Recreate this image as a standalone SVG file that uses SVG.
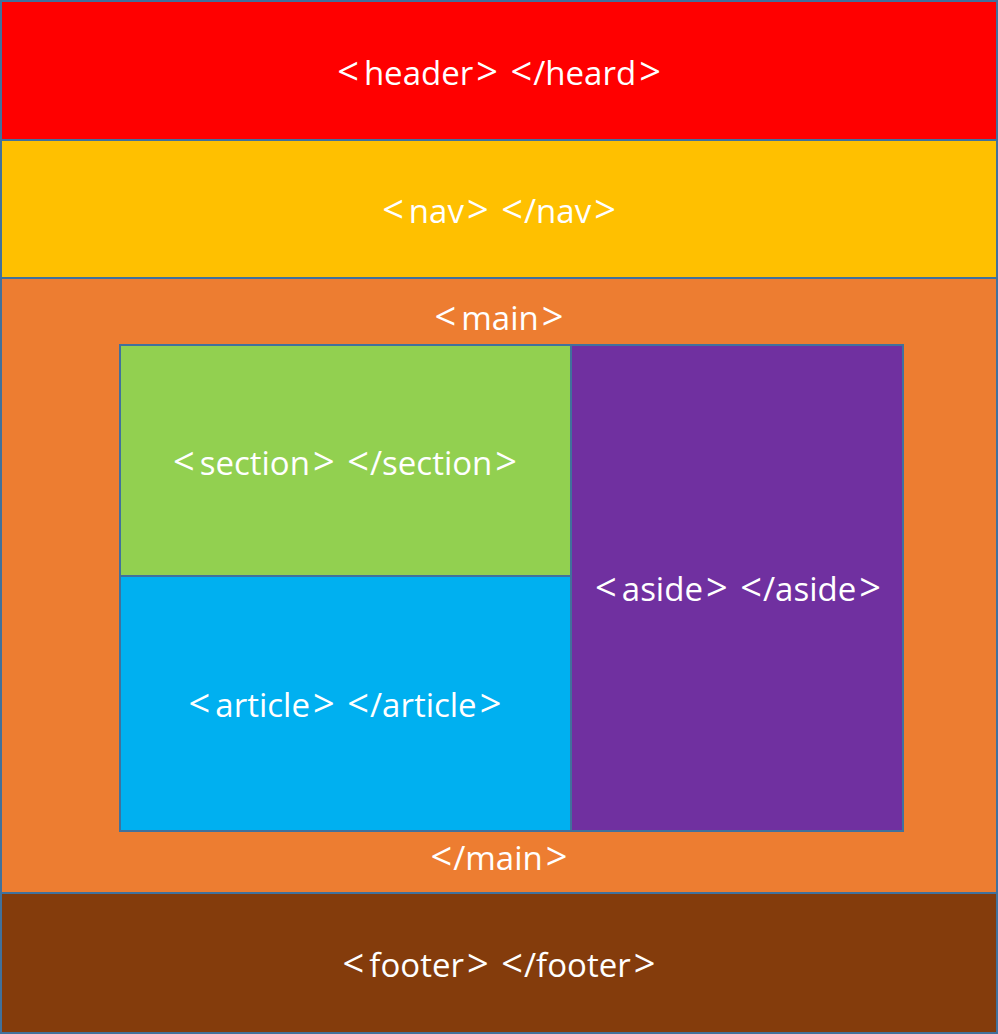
<svg xmlns="http://www.w3.org/2000/svg" width="998" height="1034" viewBox="0 0 998 1034">
<style>
rect{stroke:#41719C;stroke-width:2}
text{font-family:"Open Sans","Noto Sans","Liberation Sans",sans-serif;font-size:33px;fill:#fff;text-anchor:middle}
.b{font-size:38px}
</style>
<g id="header"><rect x="1" y="1" width="996" height="139" fill="#FF0000"/><text x="499" y="85"><tspan class="b">&lt;</tspan><tspan dx="5">header</tspan><tspan class="b" dx="3">&gt;</tspan> <tspan class="b" dx="4">&lt;</tspan><tspan dx="1">/heard</tspan><tspan class="b" dx="3">&gt;</tspan></text></g>
<g id="nav"><rect x="1" y="140" width="996" height="138" fill="#FFC000"/><text x="499" y="223"><tspan class="b">&lt;</tspan><tspan dx="5">nav</tspan><tspan class="b" dx="3">&gt;</tspan> <tspan class="b" dx="4">&lt;</tspan><tspan dx="1">/nav</tspan><tspan class="b" dx="3">&gt;</tspan></text></g>
<g id="main"><rect x="1" y="278" width="996" height="615" fill="#ED7D31"/><text x="499" y="330"><tspan class="b">&lt;</tspan><tspan dx="5">main</tspan><tspan class="b" dx="3">&gt;</tspan></text><text x="499" y="870"><tspan class="b">&lt;</tspan><tspan dx="1">/main</tspan><tspan class="b" dx="3">&gt;</tspan></text></g>
<g id="section"><rect x="120" y="345" width="451" height="231" fill="#92D050"/><text x="345" y="475"><tspan class="b">&lt;</tspan><tspan dx="5">section</tspan><tspan class="b" dx="3">&gt;</tspan> <tspan class="b" dx="4">&lt;</tspan><tspan dx="1">/section</tspan><tspan class="b" dx="3">&gt;</tspan></text></g>
<g id="article"><rect x="120" y="576" width="451" height="255" fill="#00B0F0"/><text x="345" y="717"><tspan class="b">&lt;</tspan><tspan dx="5">article</tspan><tspan class="b" dx="3">&gt;</tspan> <tspan class="b" dx="4">&lt;</tspan><tspan dx="1">/article</tspan><tspan class="b" dx="3">&gt;</tspan></text></g>
<g id="aside"><rect x="571" y="345" width="332" height="486" fill="#7030A0"/><text x="738" y="601"><tspan class="b">&lt;</tspan><tspan dx="5">aside</tspan><tspan class="b" dx="3">&gt;</tspan> <tspan class="b" dx="4">&lt;</tspan><tspan dx="1">/aside</tspan><tspan class="b" dx="3">&gt;</tspan></text></g>
<g id="footer"><rect x="1" y="893" width="996" height="140" fill="#843C0C"/><text x="499" y="977"><tspan class="b">&lt;</tspan><tspan dx="5">footer</tspan><tspan class="b" dx="3">&gt;</tspan> <tspan class="b" dx="4">&lt;</tspan><tspan dx="1">/footer</tspan><tspan class="b" dx="3">&gt;</tspan></text></g>
<g id="connectors"/>
</svg>
